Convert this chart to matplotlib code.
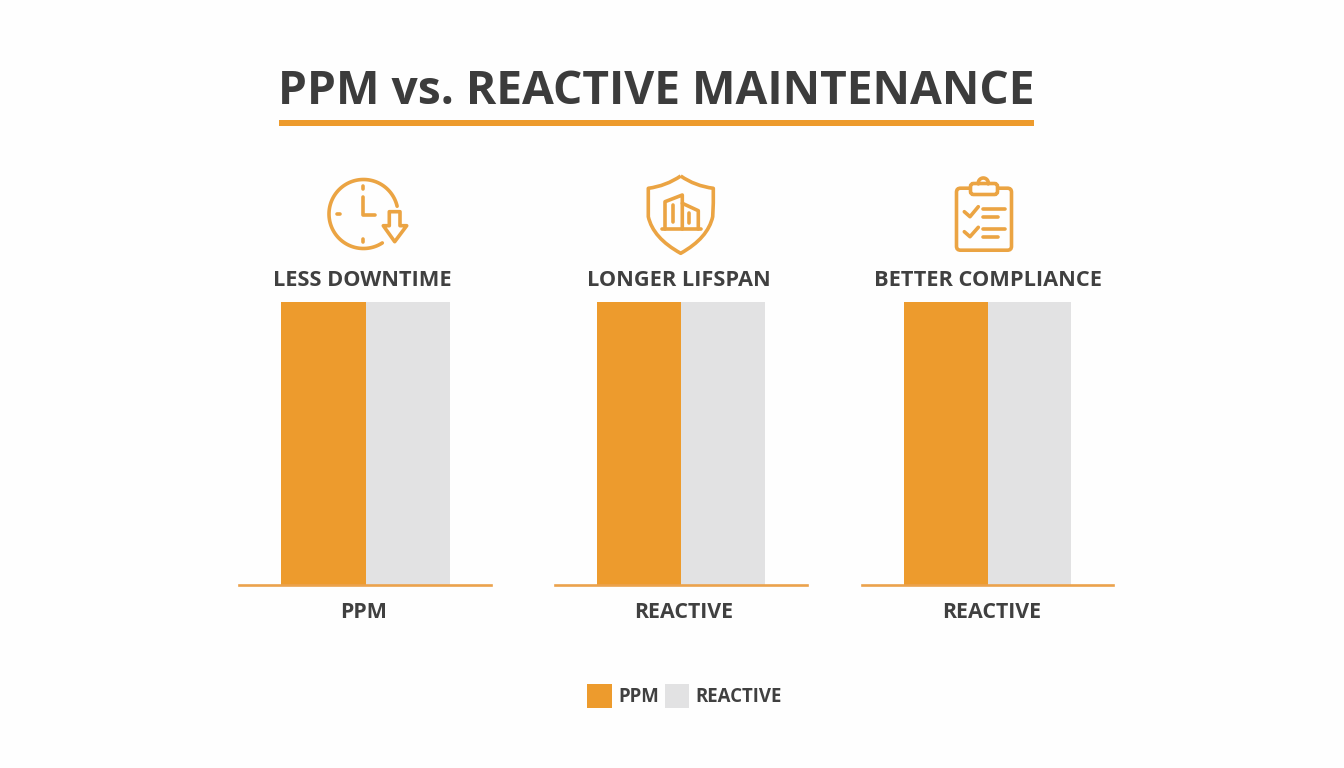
import numpy as np
import matplotlib
matplotlib.use('Agg')
import matplotlib.pyplot as plt
from matplotlib.patches import Rectangle, FancyBboxPatch, PathPatch, Polygon
from matplotlib.path import Path

W, H = 1344, 768

categories = ['LESS DOWNTIME', 'LONGER LIFSPAN', 'BETTER COMPLIANCE']
bar_labels = ['PPM', 'REACTIVE', 'REACTIVE']
series_names = ['PPM', 'REACTIVE']
ppm_values = [100, 100, 100]
reactive_values = [100, 100, 100]

ORANGE = '#ED9B2D'
ICON = '#EBA443'
LINE = '#EBA24C'
GREY = '#E2E2E3'
TEXT = '#404040'

plt.rcParams['font.family'] = ['Open Sans', 'DejaVu Sans']

fig = plt.figure(figsize=(W / 100, H / 100), dpi=100, facecolor='#FEFEFE')

# overlay in pixel units for title, icons and legend
bg = fig.add_axes([0, 0, 1, 1], zorder=5)
bg.set_xlim(0, W)
bg.set_ylim(H, 0)
bg.axis('off')
bg.patch.set_alpha(0)

# one small axes per panel: (line start, line end, first bar edge, bar width, label x)
panels = [(238.5, 490.5, 281, 84.5, 363.5), (554.5, 806.5, 597, 84, 684), (861.5, 1112.5, 904, 83.5, 992)]
top_px, base_px = 302, 585

for i, (x0, x1, bx, bw, lx) in enumerate(panels):
    ax = fig.add_axes([x0 / W, 1 - base_px / H, (x1 - x0) / W, (base_px - top_px) / H])
    ax.set_xlim((x0 - bx) / bw, (x1 - bx) / bw)
    ax.set_ylim(0, 100)
    ax.bar([0.5], [ppm_values[i]], width=1, color=ORANGE)
    ax.bar([1.5], [reactive_values[i]], width=1, color=GREY)
    for s in ['top', 'left', 'right']:
        ax.spines[s].set_visible(False)
    ax.spines['bottom'].set_color(LINE)
    ax.spines['bottom'].set_linewidth(1.9)
    ax.set_yticks([])
    ax.set_xticks([])
    ax.patch.set_alpha(0)
    bg.text(lx, 612.5, bar_labels[i], fontsize=15.4, fontweight='bold', color=TEXT, ha='center', va='center')

cat_x = [362, 678.5, 988.5]
for x, c in zip(cat_x, categories):
    bg.text(x, 280.5, c, fontsize=15.7, fontweight='bold', color=TEXT, ha='center', va='center')

# title and rule
bg.text(656.5, 91.5, 'PPM vs. REACTIVE MAINTENANCE', fontsize=33.2, fontweight='bold', color='#3C3C3C',
        ha='center', va='center')
bg.add_patch(Rectangle((279, 119.5), 755, 6.5, color=ORANGE, lw=0))

lw = 2.6
kw = dict(color=ICON, lw=lw, solid_capstyle='round', solid_joinstyle='round')

# clock icon
t = np.radians(np.linspace(13, 303, 120))
bg.plot(363.5 + 34.5 * np.cos(t), 214 - 34.5 * np.sin(t), **kw)
bg.plot([363.3, 363.3, 375], [197, 214.5, 214.5], **kw)
bg.plot([363.3, 363.3], [186, 189], **kw)
bg.plot([336.5, 339.5], [213.5, 213.5], **kw)
bg.plot([363.3, 363.3], [239, 242], **kw)
bg.add_patch(Polygon([(389.3, 211.7), (400, 211.7), (400, 225.7), (406.7, 225.7), (394.7, 241.7),
                      (383.3, 225.7), (389.3, 225.7)], closed=True, fill=False, ec=ICON, lw=lw, joinstyle='round'))

# shield icon
shield = Path([(680.7, 176), (695, 186), (713.3, 188.3), (713.3, 203), (712.7, 216.7),
               (708, 238), (680.7, 253.3), (653, 238), (648.3, 216.7), (648.3, 203),
               (648.3, 188.3), (666, 186), (680.7, 176)],
              [Path.MOVETO, Path.CURVE3, Path.CURVE3, Path.LINETO, Path.LINETO,
               Path.CURVE3, Path.CURVE3, Path.CURVE3, Path.CURVE3, Path.LINETO,
               Path.LINETO, Path.CURVE3, Path.CURVE3])
bg.add_patch(PathPatch(shield, fill=False, ec=ICON, lw=lw, joinstyle='round'))
bg.plot([662, 701], [229.3, 229.3], **kw)
bg.plot([665, 665, 682.3, 682.3], [229, 201.7, 195, 229], **kw)
bg.plot([682.3, 698.3, 698.3], [203.3, 210.7, 229], **kw)
bg.plot([673.3, 673.3], [205, 221.7], **kw)
bg.plot([689.3, 689.3], [213.3, 223], **kw)

# clipboard icon
bg.add_patch(FancyBboxPatch((958, 189.7), 52, 59, boxstyle='round,pad=1.5,rounding_size=4', fill=False, ec=ICON, lw=lw))
bg.add_patch(FancyBboxPatch((971, 184), 26, 10, boxstyle='round,pad=0.5,rounding_size=3', fc='#FEFEFE', ec=ICON, lw=lw, zorder=3))
t = np.radians(np.linspace(-10, 190, 30))
bg.plot(983.3 + 5 * np.cos(t), 183 - 5 * np.sin(t), zorder=3, **kw)
bg.plot([964.3, 970, 978.3], [211.7, 216.7, 206.7], **kw)
bg.plot([964.3, 970, 978.3], [231.7, 236.7, 227.3], **kw)
bg.plot([983.3, 1005], [209.3, 209.3], **kw)
bg.plot([983.3, 998.3], [216.7, 216.7], **kw)
bg.plot([983.3, 1005], [229.3, 229.3], **kw)
bg.plot([983.3, 998.3], [236.7, 236.7], **kw)

# legend
bg.add_patch(Rectangle((587, 684), 25, 24, color=ORANGE, lw=0))
bg.add_patch(Rectangle((665, 684), 24, 24, color=GREY, lw=0))
bg.text(618, 697.5, series_names[0], fontsize=13.4, fontweight='bold', color=TEXT, ha='left', va='center')
bg.text(695, 697.5, series_names[1], fontsize=13.4, fontweight='bold', color=TEXT, ha='left', va='center')

fig.savefig('out.png', dpi=100, facecolor=fig.get_facecolor())
